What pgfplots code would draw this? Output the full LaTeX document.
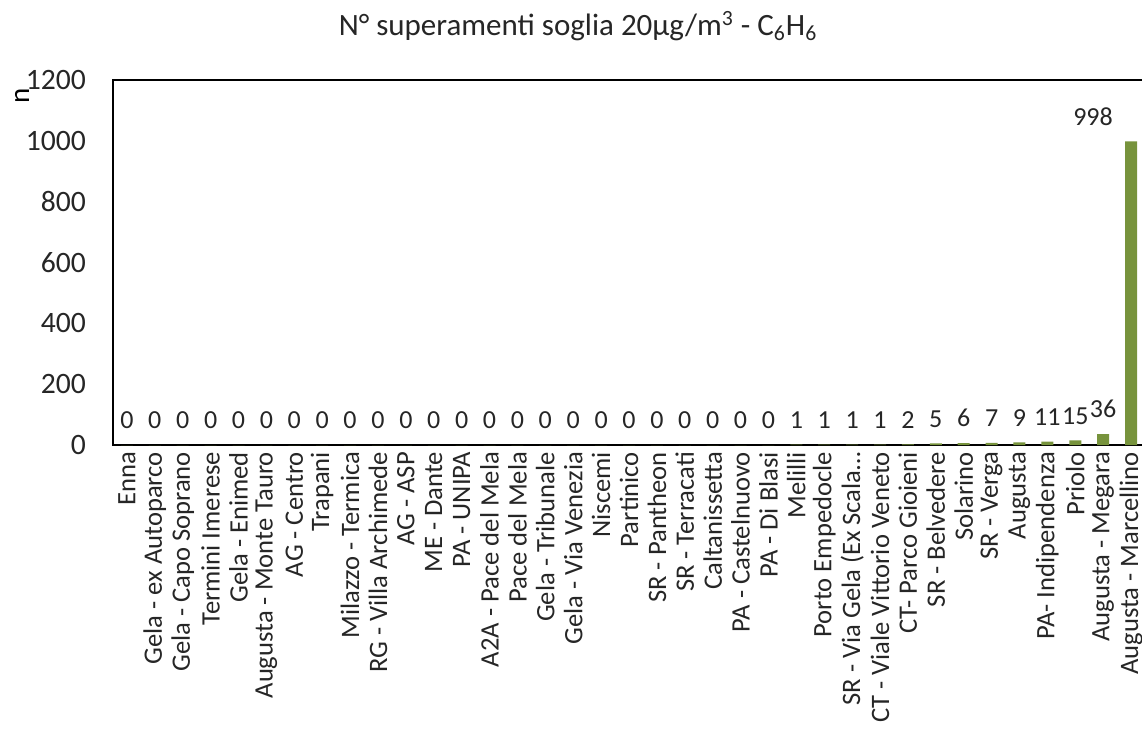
\documentclass[border=0pt]{standalone}
\usepackage{fontspec}
\setmainfont{Carlito}
\usepackage{pgfplots}
\pgfplotsset{compat=1.18}
\definecolor{barg}{RGB}{119,147,60}
\begin{document}
\begin{tikzpicture}
\begin{axis}[
  name=ax,
  scale only axis, width=516pt, height=182.5pt,
  ymin=0, ymax=1200, ytick={0,200,400,600,800,1000,1200},
  xmin=-0.5, xmax=36.5,
  xtick=data,
  xticklabels={{Enna},{Gela - ex Autoparco},{Gela - Capo Soprano},{Termini Imerese},{Gela - Enimed},{Augusta - Monte Tauro},{AG - Centro},{Trapani},{Milazzo - Termica},{RG - Villa Archimede},{AG - ASP},{ME - Dante},{PA - UNIPA},{A2A - Pace del Mela},{Pace del Mela},{Gela - Tribunale},{Gela - Via Venezia},{Niscemi},{Partinico},{SR - Pantheon},{SR - Terracati},{Caltanissetta},{PA - Castelnuovo},{PA - Di Blasi},{Melilli},{Porto Empedocle},{SR - Via Gela (Ex Scala…},{CT - Viale Vittorio Veneto},{CT- Parco Gioieni},{SR - Belvedere},{Solarino},{SR - Verga},{Augusta},{PA- Indipendenza},{Priolo},{Augusta - Megara},{Augusta - Marcellino}},
  xticklabel style={rotate=90, anchor=east, font=\fontsize{13.3}{15}\selectfont, color=black!85},
  yticklabel style={font=\fontsize{14.8}{17}\selectfont, color=black!85, xshift=-10pt},
  major tick length=0pt,
  axis line style={line width=1pt},
  ybar, bar width=6pt,
  nodes near coords,
  visualization depends on={\thisrow{x} \as \rawx},
  nodes near coords style={font=\fontsize{13}{15}\selectfont, color=black!85, anchor=south, yshift=4.5pt, xshift={-19*(\rawx==36)}},
  /pgf/number format/assume math mode=true,
  /pgf/number format/1000 sep={},
  ylabel={n},
  ylabel style={at={(axis description cs:-0.088,0.957)}, anchor=center, font=\fontsize{14.5}{17}\selectfont},
  title={N° superamenti soglia 20µg/m\textsuperscript{3} - C\textsubscript{6}H\textsubscript{6}},
  title style={at={(axis description cs:0.4506,1.115)}, anchor=center, yshift=0pt, font=\fontsize{15.5}{18}\selectfont, color=black!85},
]
\addplot[fill=barg, draw=none] table {
x y
0 0
1 0
2 0
3 0
4 0
5 0
6 0
7 0
8 0
9 0
10 0
11 0
12 0
13 0
14 0
15 0
16 0
17 0
18 0
19 0
20 0
21 0
22 0
23 0
24 1
25 1
26 1
27 1
28 2
29 5
30 6
31 7
32 9
33 11
34 15
35 36
36 998
};
\end{axis}
\pgfresetboundingbox
\path[use as bounding box] ([xshift=-56.5pt,yshift=-142pt]ax.south west) rectangle ([xshift=514.5pt,yshift=222.5pt]ax.south west);
\end{tikzpicture}
\end{document}
